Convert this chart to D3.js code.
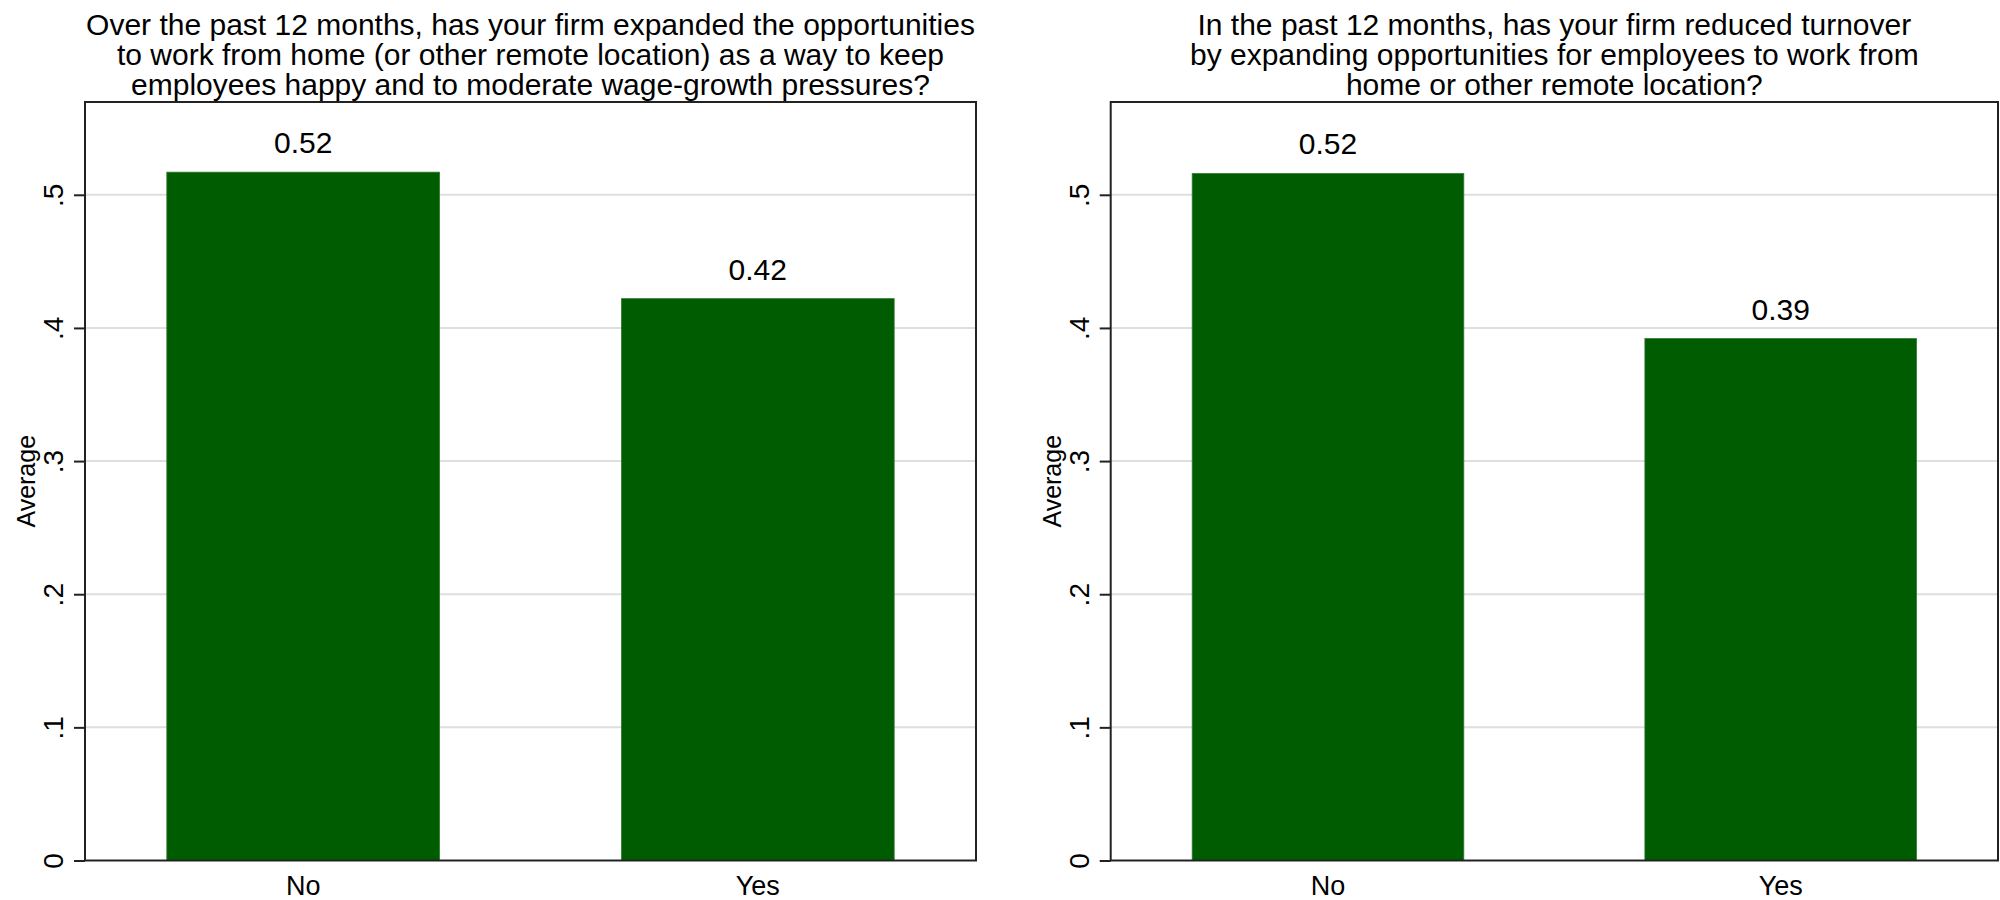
<!DOCTYPE html>
<html>
<head>
<meta charset="utf-8">
<script src="https://cdn.jsdelivr.net/npm/d3@7"></script>
<style>
  html, body { margin: 0; padding: 0; background: #fff; }
  svg { display: block; font-family: "Liberation Sans", Arial, sans-serif; }
</style>
</head>
<body>
<svg id="chart" width="2000" height="900"></svg>
<script>
// ---- data ----
const categories = ["No", "Yes"];
const leftTitle = [
  "Over the past 12 months, has your firm expanded the opportunities",
  "to work from home (or other remote location) as a way to keep",
  "employees happy and to moderate wage-growth pressures?"
];
const rightTitle = [
  "In the past 12 months, has your firm reduced turnover",
  "by expanding opportunities for employees to work from",
  "home or other remote location?"
];
const leftValues = [0.517, 0.422];
const rightValues = [0.516, 0.392];
const leftLabels = ["0.52", "0.42"];
const rightLabels = ["0.52", "0.39"];
const yTickValues = [0, 0.1, 0.2, 0.3, 0.4, 0.5];
const yTickLabels = ["0", ".1", ".2", ".3", ".4", ".5"];
const yAxisTitle = "Average";
const yMax = 0.5697;

// ---- drawing ----
const svg = d3.select("#chart");
const barColor = "#005c00";

function panel(cfg) {
  const { x0, x1, top, bottom, title, values, labels } = cfg;
  const g = svg.append("g");
  const x = d3.scaleBand().domain(categories).range([x0, x1])
    .paddingInner(0.4).paddingOuter(0.18);
  const y = d3.scaleLinear().domain([0, yMax]).range([bottom, top]);

  // grid lines
  g.selectAll("line.grid").data(yTickValues.filter(d => d > 0)).join("line")
    .attr("class", "grid")
    .attr("x1", x0).attr("x2", x1)
    .attr("y1", d => y(d)).attr("y2", d => y(d))
    .attr("stroke", "#dedede").attr("stroke-width", 2);

  // bars
  g.selectAll("rect.bar").data(values).join("rect")
    .attr("class", "bar")
    .attr("x", (d, i) => x(categories[i]))
    .attr("width", x.bandwidth())
    .attr("y", d => y(d))
    .attr("height", d => y(0) - y(d))
    .attr("fill", barColor)
    .attr("stroke", "#2f7a2f").attr("stroke-width", 0.8);

  // value labels
  g.selectAll("text.val").data(values).join("text")
    .attr("class", "val")
    .attr("x", (d, i) => x(categories[i]) + x.bandwidth() / 2)
    .attr("y", d => y(d) - 19)
    .attr("text-anchor", "middle")
    .attr("font-size", 30)
    .attr("fill", "#000")
    .text((d, i) => labels[i]);

  // frame
  g.append("rect")
    .attr("x", x0).attr("y", top)
    .attr("width", x1 - x0).attr("height", bottom - top)
    .attr("fill", "none").attr("stroke", "#222").attr("stroke-width", 2);

  // y axis
  const yAxis = d3.axisLeft(y).tickValues(yTickValues).tickSize(11)
    .tickFormat((d, i) => yTickLabels[i]);
  const ya = g.append("g").attr("transform", `translate(${x0},0)`).call(yAxis);
  ya.select(".domain").remove();
  ya.selectAll(".tick line").attr("stroke", "#222").attr("stroke-width", 2);
  ya.selectAll(".tick text")
    .attr("x", null).attr("dy", null).attr("y", null)
    .attr("transform", "translate(-22,0) rotate(-90)")
    .attr("text-anchor", "middle")
    .attr("font-size", 28)
    .attr("font-family", "Liberation Sans, Arial, sans-serif")
    .attr("fill", "#000");

  // x axis labels
  const xAxis = d3.axisBottom(x).tickSize(0);
  const xa = g.append("g").attr("transform", `translate(0,${bottom})`).call(xAxis);
  xa.select(".domain").remove();
  xa.selectAll(".tick text")
    .attr("y", 34).attr("dy", null)
    .attr("font-size", 27)
    .attr("font-family", "Liberation Sans, Arial, sans-serif")
    .attr("fill", "#000");

  // y axis title
  g.append("text")
    .attr("transform", `translate(${x0 - 50},${(top + bottom) / 2}) rotate(-90)`)
    .attr("text-anchor", "middle")
    .attr("font-size", 25)
    .attr("fill", "#000")
    .text(yAxisTitle);

  // title
  const cx = (x0 + x1) / 2;
  g.append("text")
    .attr("text-anchor", "middle")
    .attr("font-size", 30)
    .attr("fill", "#000")
    .selectAll("tspan").data(title).join("tspan")
    .attr("x", cx)
    .attr("y", (d, i) => 34.5 + i * 30)
    .text(d => d);
}

panel({ x0: 85, x1: 976, top: 102, bottom: 860.5, title: leftTitle, values: leftValues, labels: leftLabels });
panel({ x0: 1110.7, x1: 1998, top: 102, bottom: 860.5, title: rightTitle, values: rightValues, labels: rightLabels });
</script>
</body>
</html>
